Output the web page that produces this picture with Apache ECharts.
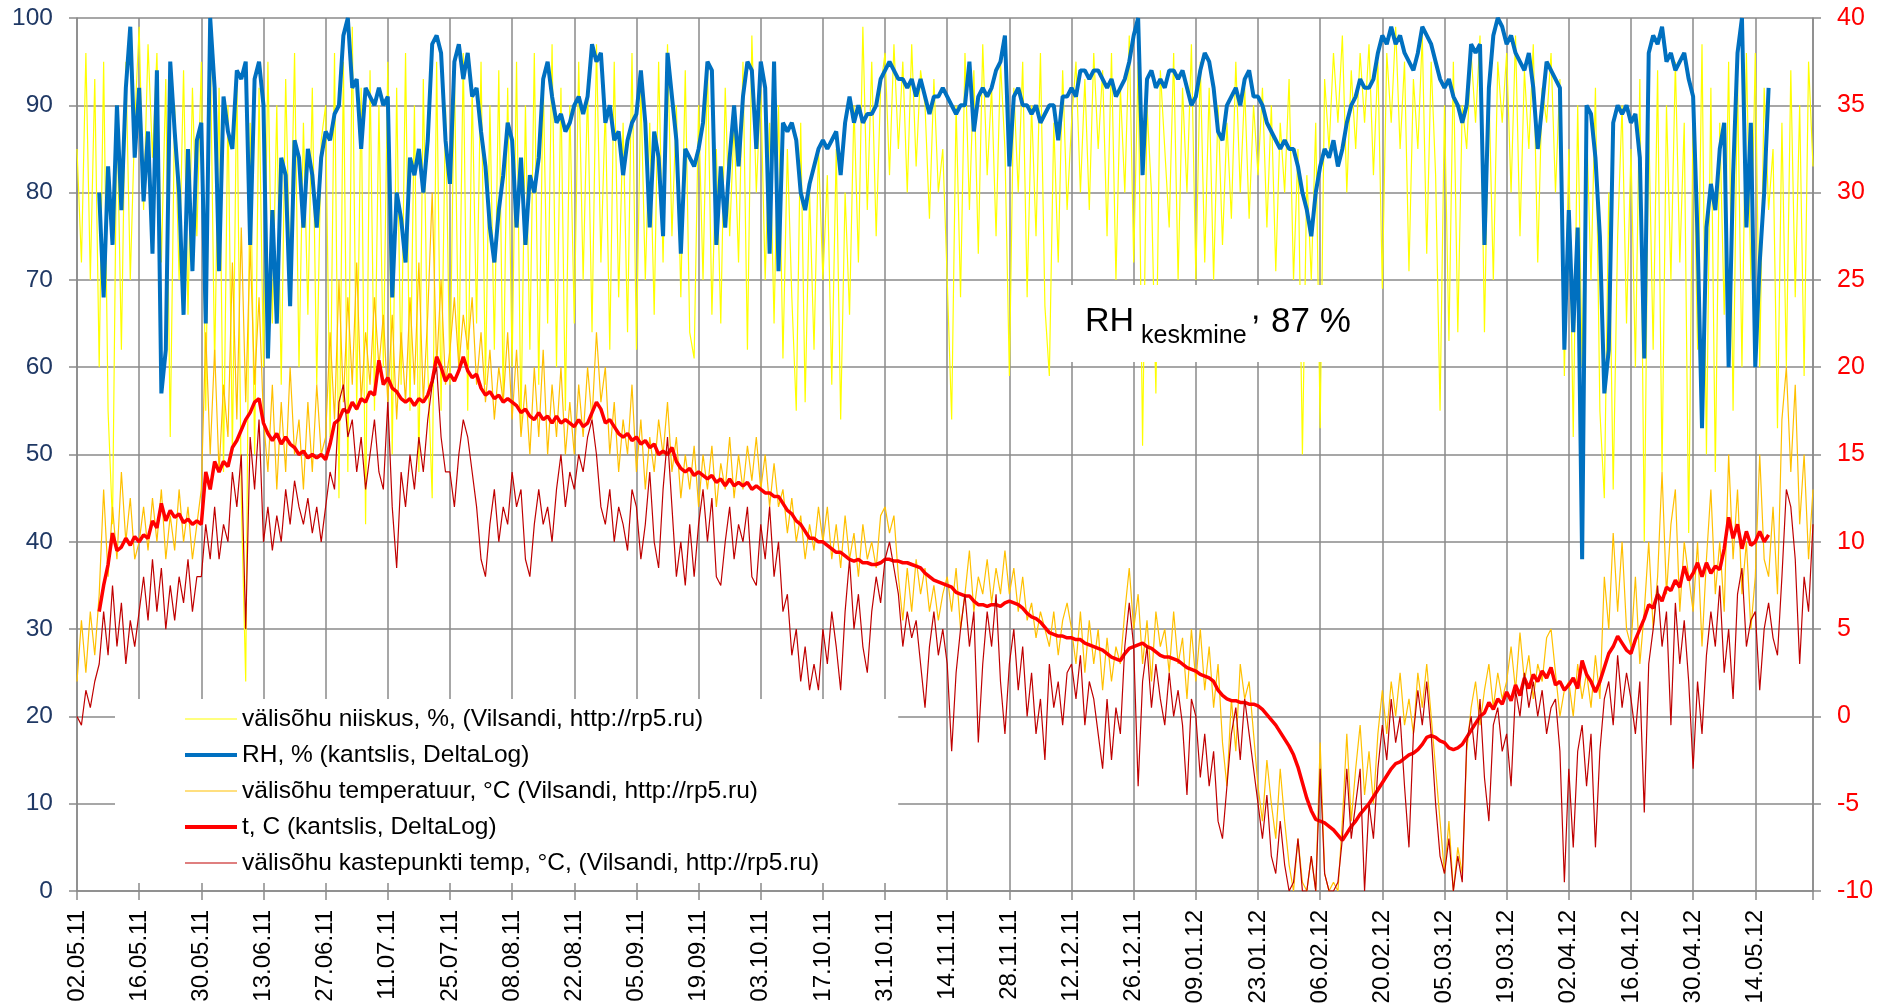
<!DOCTYPE html>
<html>
<head>
<meta charset="utf-8">
<script src="https://cdn.jsdelivr.net/npm/echarts@6/dist/echarts.min.js"></script>
<style>
  html, body { margin: 0; padding: 0; background: #fff; }
  #chart { width: 1887px; height: 1007px; }
</style>
</head>
<body>
<div id="chart"></div>
<script>
// one value per day, starting 02.05.11 (index 0) up to 27.05.12 (index 391)
const tickLabels = ['02.05.11', '16.05.11', '30.05.11', '13.06.11', '27.06.11', '11.07.11', '25.07.11',
  '08.08.11', '22.08.11', '05.09.11', '19.09.11', '03.10.11', '17.10.11', '31.10.11', '14.11.11',
  '28.11.11', '12.12.11', '26.12.11', '09.01.12', '23.01.12', '06.02.12', '20.02.12', '05.03.12',
  '19.03.12', '02.04.12', '16.04.12', '30.04.12', '14.05.12']

// välisõhu niiskus, % (Vilsandi)
const niiskus = [
  85, 72, 96, 70, 93, 60, 95, 55, 42, 90, 62, 95, 70, 88,
  99, 78, 97, 84, 96, 72, 93, 52, 90, 70, 94, 66, 92, 75,
  95, 55, 98, 60, 92, 48, 90, 50, 94, 45, 24, 88, 50, 92,
  60, 95, 65, 90, 58, 93, 70, 96, 60, 88, 66, 92, 58, 86,
  90, 52, 96, 45, 95, 48, 99, 55, 92, 42, 94, 55, 90, 60,
  95, 50, 92, 58, 96, 55, 90, 48, 93, 60, 45, 95, 55, 90,
  58, 94, 60, 96, 55, 92, 65, 95, 58, 90, 62, 94, 56, 92,
  60, 95, 53, 90, 62, 96, 58, 93, 65, 97, 60, 92, 55, 90,
  65, 95, 70, 92, 64, 97, 72, 90, 62, 95, 68, 88, 64, 96,
  62, 92, 70, 88, 66, 95, 72, 97, 75, 90, 68, 94, 64, 61,
  90, 70, 95, 66, 85, 65, 92, 75, 88, 72, 95, 62, 98, 80,
  92, 70, 88, 65, 90, 61, 85, 68, 55, 88, 56, 80, 62, 85,
  70, 82, 58, 85, 54, 80, 66, 90, 72, 99, 78, 95, 75, 92,
  96, 82, 97, 85, 95, 80, 97, 83, 94, 90, 77, 93, 80, 85,
  70, 54, 90, 68, 96, 78, 94, 73, 97, 82, 92, 75, 95, 85,
  59, 92, 80, 95, 68, 90, 75, 96, 67, 59, 88, 72, 94, 78,
  88, 95, 80, 93, 78, 96, 85, 94, 75, 96, 70, 92, 80, 98,
  72, 95, 51, 90, 80, 57, 94, 85, 76, 96, 70, 92, 80, 97,
  70, 95, 72, 92, 70, 90, 74, 88, 77, 95, 80, 92, 77, 90,
  82, 92, 76, 90, 71, 88, 80, 93, 70, 85, 50, 82, 70, 88,
  53, 93, 85, 96, 88, 98, 80, 94, 85, 96, 88, 97, 82, 95,
  69, 96, 88, 99, 85, 95, 71, 93, 85, 98, 73, 95, 82, 55,
  90, 63, 95, 64, 90, 85, 96, 88, 98, 64, 92, 70, 95, 88,
  96, 80, 98, 75, 94, 85, 97, 72, 92, 88, 96, 80, 93, 59,
  85, 52, 90, 60, 88, 70, 92, 55, 45, 80, 46, 75, 90, 65,
  85, 60, 93, 40, 88, 62, 94, 48, 90, 70, 95, 72, 88, 41,
  90, 62, 97, 50, 92, 48, 88, 66, 95, 55, 93, 60, 96, 70,
  96, 60, 92, 78, 85, 53, 88, 60, 94, 68, 90, 59, 95, 83
]

// RH, % (kantslis, DeltaLog)
const rhKantsel = [
  null, null, null, null, null, 80, 68, 83, 74, 90, 78, 92, 99, 84,
  92, 79, 87, 73, 94, 57, 62, 95, 87, 80, 66, 85, 71, 86,
  88, 65, 100, 92, 71, 91, 87, 85, 94, 93, 95, 74, 93, 95,
  90, 61, 78, 65, 84, 82, 67, 86, 84, 76, 85, 82, 76, 84,
  87, 86, 89, 90, 98, 100, 92, 93, 85, 92, 91, 90, 92, 90,
  91, 68, 80, 77, 72, 84, 82, 85, 80, 86, 97, 98, 96, 86,
  81, 95, 97, 93, 96, 91, 92, 87, 83, 76, 72, 78, 82, 88,
  86, 76, 84, 74, 82, 80, 84, 93, 95, 91, 88, 89, 87, 88,
  90, 91, 89, 91, 97, 95, 96, 88, 90, 86, 87, 82, 86, 88,
  89, 94, 88, 76, 87, 84, 75, 96, 91, 86, 73, 85, 84, 83,
  85, 88, 95, 94, 74, 83, 76, 84, 90, 83, 91, 95, 94, 85,
  95, 92, 73, 95, 71, 88, 87, 88, 86, 80, 78, 81, 83, 85,
  86, 85, 86, 87, 82, 88, 91, 88, 90, 88, 89, 89, 90, 93,
  94, 95, 94, 93, 93, 92, 93, 91, 93, 91, 89, 91, 91, 92,
  91, 90, 89, 90, 90, 95, 87, 91, 92, 91, 92, 94, 95, 98,
  83, 91, 92, 90, 90, 89, 90, 88, 89, 90, 90, 86, 91, 91,
  92, 91, 94, 94, 93, 94, 94, 93, 92, 93, 91, 92, 93, 95,
  98, 100, 82, 93, 94, 92, 93, 92, 94, 94, 93, 94, 92, 90,
  91, 94, 96, 95, 92, 87, 86, 90, 91, 92, 90, 93, 94, 91,
  91, 90, 88, 87, 86, 85, 86, 85, 85, 83, 80, 78, 75, 80,
  83, 85, 84, 86, 83, 85, 88, 90, 91, 93, 92, 92, 93, 96,
  98, 97, 99, 97, 98, 96, 95, 94, 96, 99, 98, 97, 95, 93,
  92, 93, 91, 90, 88, 90, 97, 96, 97, 74, 92, 98, 100, 99,
  97, 98, 96, 95, 94, 96, 92, 85, 90, 95, 94, 93, 92, 62,
  78, 64, 76, 38, 90, 89, 84, 75, 57, 62, 88, 90, 89, 90,
  88, 89, 84, 61, 96, 98, 97, 99, 95, 96, 94, 95, 96, 93,
  91, 75, 53, 76, 81, 78, 85, 88, 60, 82, 96, 100, 76, 88,
  60, 72, 80, 92, null, null, null, null, null, null, null, null, null, null
]

// välisõhu temperatuur, °C (Vilsandi)
const tValis = [
  2, 5.5, 2.5, 6, 3.5, 7, 13, 8, 12, 9, 14, 10, 12.5, 9,
  10, 12, 9.5, 12.5, 10, 13, 9, 11.5, 9.5, 13, 10, 12, 9, 11,
  13, 22, 15, 21, 14, 19, 16, 26, 17, 28, 18, 27, 19, 24,
  17, 14, 19, 13, 18, 14, 20, 15, 17, 13, 18, 14, 19, 15,
  16, 22, 17, 25, 18, 24, 19, 26, 18, 22, 19, 24, 20, 23,
  18, 23, 17, 22, 18, 24, 19, 26, 18, 23, 30, 20, 25, 19,
  21, 24, 20, 23, 21, 24, 19, 22, 18, 21, 17, 20, 18, 22,
  17, 21, 16, 19, 15, 20, 16, 21, 15, 19, 16, 20, 15, 18,
  15, 19, 16, 20, 17, 22, 18, 20, 15, 18, 14, 17, 15, 19,
  14, 17, 13, 16, 14, 17, 15, 18, 14, 16, 12.5, 15, 13, 15.5,
  12, 15, 13, 15.5, 12, 14.5, 13, 16, 12.5, 15, 13, 15.5, 13.5, 16,
  13, 15, 12, 14.5, 12, 13, 10.5, 12.5, 10, 11.5, 9, 11, 9.5, 12,
  10, 12, 9, 11, 8.5, 11.5, 9, 10.5, 8, 11, 9, 10, 8.5, 11.5,
  12, 10.5, 11.5, 8, 5.5, 8.5, 6, 9, 7, 8.5, 6, 7.5, 5.5, 7,
  8, 6, 8.5, 5, 7, 9.5, 6, 8, 7, 9, 6.5, 8.5, 7, 9.5,
  7, 8.5, 6, 8, 5.5, 6.5, 4.5, 6, 5, 4, 6, 3.5, 5.5, 6.5,
  5, 3, 6, 2.5, 5.5, 3, 5, 1.5, 4.5, 2, 4, 3, 6, 8.5,
  5, 7, 3, 5.5, 2, 6, 4, 5, 2.5, 6, 3, 4.5, 1, 5,
  2, 5, 1.5, 4, 0.5, 3, -1.5, -4, 1, -2, 3, 1, 2, -1,
  -4, -6, -2.5, -5, -7, -3, -6, -8.5, -10, -7, -9.5, -10, -8, -10,
  -1.5, -9, -10, -9.5, -10, -6, -1, -6, -3, -0.5, -4.5, -2, -5, -1,
  1.5, -1, 2, 0, 2.5, -0.5, 1, -1, 2.5, 0.5, 3, 0, -3, -6,
  -9, -6, -10, -7.5, -9, -2, 0.5, 2, -0.5, 1.5, 3, 0.5, 2.5, 1,
  2, 4, 1.5, 4.8, 2, 3.5, 1, 3, 2, 4.5, 5, 2.5, 0, 1.5,
  2, 0, 3, 1, 2.5, 0.5, 3.5, 1, 8, 5, 10.5, 6, 10, 5,
  4, 8, 3, 6, 10, 5, 8, 14, 7, 11, 13, 6, 10, 8,
  6, 10, 4, 9, 13, 7, 10, 6, 15, 9, 13, 7, 10, 5,
  8, 15, 9, 8, 12, 7, 17, 20, 14, 19, 11, 15, 9, 13
]

// t, C (kantslis, DeltaLog)
const tKantsel = [
  null, null, null, null, null, 6.0, 7.5, 8.7, 10.5, 9.5, 9.7, 10.2, 9.8, 10.3,
  10.0, 10.4, 10.2, 11.2, 10.8, 12.2, 11.2, 11.8, 11.4, 11.6, 11.1, 11.3, 11.0, 11.2,
  11.0, 14.0, 13.0, 14.6, 14.0, 14.6, 14.3, 15.4, 15.8, 16.4, 17.0, 17.4, 18.0, 18.2,
  16.8, 16.2, 15.8, 16.2, 15.6, 16.0, 15.6, 15.4, 15.0, 15.2, 14.8, 15.0, 14.8, 15.0,
  14.7, 15.6, 16.8, 17.0, 17.6, 17.4, 18.0, 17.6, 18.2, 18.0, 18.6, 18.4, 20.4, 19.0,
  19.4, 18.8, 18.6, 18.2, 18.0, 18.2, 17.8, 18.2, 18.0, 18.4, 19.2, 20.6, 20.0, 19.2,
  19.6, 19.2, 19.8, 20.6, 19.8, 19.4, 19.6, 18.8, 18.4, 18.6, 18.2, 18.4, 18.0, 18.2,
  18.0, 17.8, 17.4, 17.6, 17.2, 17.0, 17.4, 17.0, 17.2, 16.8, 17.2, 16.8, 17.0, 16.8,
  16.6, 17.0, 16.6, 16.8, 17.4, 18.0, 17.6, 16.8, 17.0, 16.6, 16.2, 16.0, 16.2, 15.8,
  16.0, 15.6, 15.8, 15.4, 15.6, 15.0, 15.2, 15.0, 15.4, 14.6, 14.2, 14.0, 14.2, 13.8,
  14.0, 13.8, 13.6, 13.8, 13.4, 13.6, 13.2, 13.6, 13.2, 13.4, 13.2, 13.4, 13.0, 13.2,
  13.0, 12.8, 12.8, 12.6, 12.6, 12.2, 11.8, 11.6, 11.2, 11.0, 10.6, 10.2, 10.2, 10.0,
  10.0, 9.8, 9.6, 9.4, 9.4, 9.2, 9.0, 8.9, 9.0, 8.8, 8.8, 8.7, 8.7, 8.8,
  9.0, 9.0, 8.9, 8.9, 8.8, 8.8, 8.7, 8.6, 8.5, 8.2, 8.0, 7.8, 7.7, 7.6,
  7.5, 7.4, 7.1, 7.0, 6.9, 6.9, 6.6, 6.4, 6.4, 6.3, 6.4, 6.4, 6.3, 6.5,
  6.6, 6.5, 6.4, 6.2, 5.9, 5.7, 5.6, 5.4, 5.1, 4.8, 4.7, 4.6, 4.6, 4.5,
  4.5, 4.4, 4.4, 4.2, 4.1, 4.0, 3.9, 3.8, 3.6, 3.4, 3.3, 3.2, 3.6, 3.9,
  4.0, 4.1, 4.2, 4.0, 3.9, 3.7, 3.5, 3.4, 3.4, 3.3, 3.2, 3.0, 2.8, 2.7,
  2.6, 2.4, 2.3, 2.2, 2.0, 1.5, 1.2, 1.0, 0.9, 0.9, 0.8, 0.8, 0.7, 0.7,
  0.6, 0.4, 0.1, -0.2, -0.5, -0.9, -1.3, -1.7, -2.2, -2.9, -3.8, -4.7, -5.4, -5.9,
  -6.0, -6.1, -6.3, -6.5, -6.8, -7.1, -6.7, -6.3, -6.0, -5.6, -5.3, -5.0, -4.6, -4.2,
  -3.8, -3.4, -3.0, -2.7, -2.6, -2.4, -2.2, -2.1, -1.9, -1.6, -1.2, -1.1, -1.2, -1.4,
  -1.5, -1.8, -1.9, -1.8, -1.6, -1.2, -0.8, -0.4, 0.0, 0.2, 0.8, 0.4, 1.0, 0.7,
  1.4, 0.9, 1.8, 1.2, 2.2, 1.6, 2.4, 2.0, 2.6, 2.2, 2.8, 1.8, 2.0, 1.5,
  1.8, 2.2, 1.6, 3.2, 2.4, 2.0, 1.4, 2.0, 2.8, 3.6, 4.0, 4.6, 4.2, 3.8,
  3.6, 4.4, 5.0, 5.6, 6.4, 6.2, 7.0, 6.6, 7.4, 7.2, 7.8, 7.4, 8.6, 7.8,
  8.2, 8.8, 8.0, 8.8, 8.2, 8.6, 8.4, 9.6, 11.4, 10.2, 11.0, 9.6, 10.6, 9.8,
  10.0, 10.6, 10.0, 10.4, null, null, null, null, null, null, null, null, null, null
]

// välisõhu kastepunkti temp, °C (Vilsandi)
const kastepunkt = [
  0, -0.5, 1.5, 0.5, 2, 3, 6, 3.5, 7.5, 4, 6.5, 3, 5.5, 4,
  6, 8, 5.5, 9, 6, 8.5, 5, 7.5, 5.5, 8, 6.5, 9, 6, 8,
  8, 11, 9, 12, 9, 11, 10, 14, 12, 15, 5, 16, 13, 17,
  10, 12, 9.5, 11.5, 10, 13, 11, 13.5, 12, 11, 12.5, 10.5, 12, 10,
  12, 14, 13, 18, 19, 16, 17, 14, 16, 13, 15, 17, 14, 13,
  18, 12, 8.5, 14, 12, 15, 13, 16, 14, 17, 19, 20, 16, 14,
  14, 12, 15, 17, 16, 14, 12, 9, 8, 11, 13, 10, 12, 11,
  14, 12, 13, 9, 8, 11, 13, 11, 12, 10, 13, 15, 12, 14,
  13, 15, 14, 16, 17, 15, 12, 11, 13, 10, 12, 11, 9.5, 13,
  12, 9, 11, 14, 10, 8.5, 13, 16, 12, 8, 10, 7.5, 11, 8,
  11, 13, 10, 12.5, 8, 7.5, 10, 12, 9, 11, 10, 12, 8, 7.5,
  11, 9, 12, 8, 10, 6, 7, 3.5, 5, 2, 4, 1.5, 3, 1.5,
  5, 3, 6, 4, 1.5, 6, 9, 5, 7, 4, 2.5, 6, 8, 6.5,
  9, 10, 8.5, 7, 4, 6, 4.5, 5.5, 3, 0.5, 4, 6, 3.5, 5,
  3, -2, 2.5, 5, 7, 4, 6, -1.5, 3, 6, 4, 7, 2, -1,
  3, 5, 1.5, 4, 0, 2.5, -1, 1, -2.5, 3, 0.5, 2, -0.5, 2.5,
  3, 1, 3.5, -0.5, 2, 1, -1, -3, 1, -2.5, 0.5, -1, 4, 6.5,
  4, -4, 2, 4, 0.5, 3, 1, -0.5, 2.5, 0, 1.5, -0.5, -4.5, 1,
  0, -3.5, -1, -4, -2, -6, -7, -4, -1, 0.5, -2.5, 1, -1, -3,
  -5, -7, -4.5, -8, -9, -6, -8.5, -10, -9.5, -7, -10, -10, -8, -10,
  -3, -9, -10, -10, -9.5, -7, -3, -7, -5, -3, -10, -5, -7, -3,
  -0.5, -2.5, 1, -1.5, 0, -4, -7.5, -1, 1.5, -0.5, 2, -1, -5, -8,
  -9, -7, -10, -8, -9.5, -1.5, 0, -2.5, 1, -3.5, -6, -0.5, 0.5, -2,
  -1, -4, 1.5, 0, 2.5, 0.5, 2, 0, 1.5, -1, 0.5, 1, -2, -9.5,
  -3, -7.5, -2, -0.5, -4, -1, -7.5, -2, 1, 2, -0.5, 3.5, 0.5, 2.5,
  1, -1, 2, -5.5, 3, 5, 7.5, 4, 6, -0.5, 6.5, 3, 5.5, 2,
  -3, 2, -1, 3.5, 6, 4, 7.5, 2.5, 5, 1, 7, 8.5, 4, 5.5,
  6, 1.5, 5, 6.5, 4.5, 3.5, 8, 13, 12, 9, 3, 8, 6, 11
]

const FONT = '"Liberation Sans", Arial, sans-serif'
const GRID_COLOR = '#8a8a8a'
// legend swatches: a full bar for thick lines, a thin centred bar for thin ones
const THICK_ICON = 'rect'
const THIN_ICON = 'path://M0,0H0.01V0.01H0Z M0,1.4H52V2.6H0Z M51.99,3.99H52V4H51.99Z'

const toPairs = (arr) => arr.map((v, i) => [i, v])

const chart = echarts.init(document.getElementById('chart'), null, { renderer: 'canvas' })

const lineSeries = (name, data, color, width, yAxisIndex) => ({
  name: name,
  type: 'line',
  yAxisIndex: yAxisIndex,
  data: toPairs(data),
  symbol: 'none',
  showSymbol: false,
  connectNulls: false,
  lineStyle: { color: color, width: width },
  itemStyle: { color: color },
  emphasis: { disabled: true },
})

const names = [
  'välisõhu niiskus, %, (Vilsandi, http://rp5.ru)',
  'RH, % (kantslis, DeltaLog)',
  'välisõhu temperatuur, °C (Vilsandi, http://rp5.ru)',
  't, C (kantslis, DeltaLog)',
  'välisõhu kastepunkti temp, °C, (Vilsandi, http://rp5.ru)',
]

const option = {
  animation: false,
  backgroundColor: '#fff',
  textStyle: { fontFamily: FONT },
  grid: { left: 77, right: 74, top: 18, bottom: 116, containLabel: false },
  legend: {
    orient: 'vertical',
    left: 115,
    top: 699,
    padding: [7, 79, 7, 70],
    backgroundColor: '#fff',
    itemWidth: 52,
    itemHeight: 4,
    itemGap: 10,
    textStyle: { fontSize: 24.5, color: '#000', fontFamily: FONT, lineHeight: 26 },
    data: [
      { name: names[0], icon: THIN_ICON },
      { name: names[1], icon: THICK_ICON },
      { name: names[2], icon: THIN_ICON },
      { name: names[3], icon: THICK_ICON },
      { name: names[4], icon: THIN_ICON },
    ],
  },
  xAxis: {
    type: 'value',
    min: 0,
    max: 391,
    interval: 14,
    axisLine: { show: true, onZero: false, lineStyle: { color: GRID_COLOR, width: 1.5 } },
    axisTick: { show: true, inside: false, length: 9, lineStyle: { color: GRID_COLOR, width: 1.5 } },
    splitLine: { show: true, lineStyle: { color: GRID_COLOR, width: 1.5 } },
    axisLabel: {
      rotate: 90,
      margin: 19,
      fontSize: 24,
      color: '#000',
      fontFamily: FONT,
      formatter: (v) => (v % 14 === 0 && tickLabels[v / 14]) ? tickLabels[v / 14] : '',
    },
  },
  yAxis: [
    {
      type: 'value',
      position: 'left',
      min: 0,
      max: 100,
      interval: 10,
      axisLine: { show: true, lineStyle: { color: GRID_COLOR, width: 1.5 } },
      axisTick: { show: true, length: 8, lineStyle: { color: GRID_COLOR, width: 1.5 } },
      splitLine: { show: true, lineStyle: { color: GRID_COLOR, width: 1.5 } },
      axisLabel: { fontSize: 24.5, color: '#1F3864', margin: 24, fontFamily: FONT },
    },
    {
      type: 'value',
      position: 'right',
      min: -10,
      max: 40,
      interval: 5,
      axisLine: { show: true, lineStyle: { color: GRID_COLOR, width: 1.5 } },
      axisTick: { show: true, length: 8, lineStyle: { color: GRID_COLOR, width: 1.5 } },
      splitLine: { show: false },
      axisLabel: { fontSize: 25, color: '#FF0000', margin: 24, fontFamily: FONT },
    },
  ],
  series: [
    lineSeries(names[0], niiskus, '#FFFF00', 1.2, 0),
    lineSeries(names[1], rhKantsel, '#0070C0', 4, 0),
    lineSeries(names[2], tValis, '#FFC000', 1.2, 1),
    lineSeries(names[3], tKantsel, '#FF0000', 3.5, 1),
    lineSeries(names[4], kastepunkt, '#C00000', 1.2, 1),
  ],
  graphic: [
    { type: 'rect', z: 100, left: 1062, top: 285, shape: { width: 312, height: 77 }, style: { fill: '#fff' } },
    { type: 'text', z: 101, left: 1085, top: 305, style: { text: 'RH', fontSize: 34, fill: '#000', fontFamily: FONT } },
    { type: 'text', z: 101, left: 1141, top: 324, style: { text: 'keskmine', fontSize: 25, fill: '#000', fontFamily: FONT } },
    { type: 'text', z: 101, left: 1251, top: 293, style: { text: ',', fontSize: 34, fill: '#000', fontFamily: FONT } },
    { type: 'text', z: 101, left: 1271, top: 305, style: { text: '87 %', fontSize: 35, fill: '#000', fontFamily: FONT } },
  ],
}

chart.setOption(option)
</script>
</body>
</html>
